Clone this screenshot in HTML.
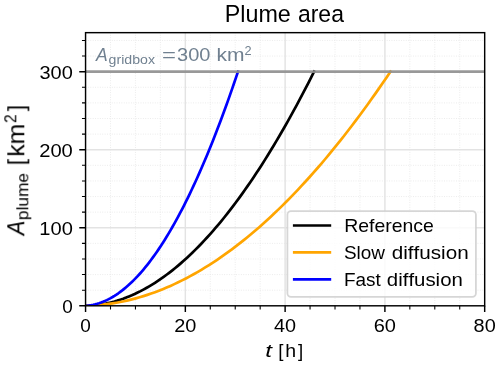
<!DOCTYPE html>
<html><head><meta charset="utf-8"><title>Plume area</title>
<style>html,body{margin:0;padding:0;background:#fff;}body{width:500px;height:365px;overflow:hidden;}svg{display:block;}text{font-family:"Liberation Sans",sans-serif;}</style>
</head><body>
<svg width="500" height="365" viewBox="0 0 500 365">
<rect width="500" height="365" fill="#fff"/>
<path d="M110.5 305.8V32.66M135.45 305.8V32.66M160.39 305.8V32.66M210.28 305.8V32.66M235.23 305.8V32.66M260.18 305.8V32.66M310.06 305.8V32.66M335.01 305.8V32.66M359.95 305.8V32.66M409.84 305.8V32.66M434.79 305.8V32.66M459.74 305.8V32.66M85.56 290.19H484.68M85.56 274.58H484.68M85.56 258.98H484.68M85.56 243.37H484.68M85.56 212.15H484.68M85.56 196.54H484.68M85.56 180.94H484.68M85.56 165.33H484.68M85.56 134.11H484.68M85.56 118.5H484.68M85.56 102.9H484.68M85.56 87.29H484.68M85.56 56.07H484.68M85.56 40.46H484.68" stroke="#e8e8e8" stroke-width="0.9" stroke-dasharray="0.9 1.49" fill="none"/>
<path d="M185.34 305.8V32.66M285.12 305.8V32.66M384.9 305.8V32.66M85.56 227.76H484.68M85.56 149.72H484.68M85.56 71.68H484.68" stroke="#e3e3e3" stroke-width="1.44" fill="none"/>
<defs><clipPath id="ax"><rect x="85.56" y="32.66" width="399.12" height="273.14"/></clipPath></defs>
<g clip-path="url(#ax)">
<polyline points="85.56,305.80 88.45,305.71 91.35,305.54 94.24,305.30 97.13,304.98 100.02,304.58 102.92,304.11 105.81,303.56 108.70,302.94 111.59,302.24 114.49,301.47 117.38,300.62 120.27,299.69 123.16,298.70 126.06,297.62 128.95,296.47 131.84,295.25 134.73,293.95 137.63,292.58 140.52,291.14 143.41,289.61 146.30,288.02 149.20,286.35 152.09,284.61 154.98,282.79 157.87,280.90 160.77,278.93 163.66,276.89 166.55,274.78 169.44,272.60 172.34,270.34 175.23,268.01 178.12,265.60 181.01,263.12 183.91,260.57 186.80,257.94 189.69,255.25 192.58,252.48 195.48,249.63 198.37,246.72 201.26,243.73 204.15,240.67 207.05,237.54 209.94,234.33 212.83,231.06 215.72,227.71 218.62,224.29 221.51,220.79 224.40,217.23 227.29,213.59 230.19,209.88 233.08,206.11 235.97,202.26 238.86,198.33 241.76,194.34 244.65,190.28 247.54,186.14 250.44,181.94 253.33,177.66 256.22,173.31 259.11,168.90 262.01,164.41 264.90,159.85 267.79,155.22 270.68,150.52 273.58,145.75 276.47,140.91 279.36,136.01 282.25,131.03 285.15,125.98 288.04,120.86 290.93,115.67 293.82,110.42 296.72,105.09 299.61,99.69 302.50,94.23 305.39,88.69 308.29,83.09 311.18,77.42 314.07,71.68" fill="none" stroke="#000000" stroke-width="2.7" stroke-linecap="square" stroke-linejoin="round"/>
<polyline points="85.56,305.80 89.42,305.68 93.28,305.48 97.14,305.21 101.00,304.86 104.86,304.44 108.72,303.94 112.57,303.37 116.43,302.73 120.29,302.01 124.15,301.21 128.01,300.34 131.87,299.40 135.73,298.38 139.59,297.29 143.45,296.12 147.31,294.88 151.17,293.57 155.03,292.18 158.89,290.72 162.75,289.19 166.60,287.58 170.46,285.90 174.32,284.14 178.18,282.31 182.04,280.41 185.90,278.44 189.76,276.39 193.62,274.27 197.48,272.08 201.34,269.81 205.20,267.47 209.06,265.06 212.92,262.58 216.78,260.03 220.63,257.40 224.49,254.70 228.35,251.93 232.21,249.08 236.07,246.17 239.93,243.18 243.79,240.12 247.65,236.99 251.51,233.79 255.37,230.52 259.23,227.17 263.09,223.76 266.95,220.27 270.81,216.71 274.66,213.08 278.52,209.39 282.38,205.61 286.24,201.77 290.10,197.86 293.96,193.88 297.82,189.83 301.68,185.70 305.54,181.51 309.40,177.25 313.26,172.92 317.12,168.51 320.98,164.04 324.84,159.50 328.69,154.88 332.55,150.20 336.41,145.45 340.27,140.63 344.13,135.74 347.99,130.78 351.85,125.75 355.71,120.65 359.57,115.49 363.43,110.25 367.29,104.95 371.15,99.57 375.01,94.13 378.86,88.62 382.72,83.04 386.58,77.40 390.44,71.68" fill="none" stroke="#ffa500" stroke-width="2.7" stroke-linecap="square" stroke-linejoin="round"/>
<polyline points="85.56,305.80 87.49,305.65 89.42,305.42 91.35,305.13 93.28,304.75 95.21,304.31 97.14,303.79 99.07,303.20 101.00,302.54 102.93,301.80 104.86,300.99 106.78,300.10 108.71,299.15 110.64,298.12 112.57,297.02 114.50,295.84 116.43,294.60 118.36,293.28 120.29,291.88 122.22,290.42 124.15,288.88 126.08,287.27 128.01,285.59 129.94,283.83 131.87,282.01 133.80,280.11 135.73,278.14 137.66,276.09 139.59,273.98 141.52,271.79 143.45,269.53 145.38,267.20 147.31,264.79 149.23,262.32 151.16,259.77 153.09,257.15 155.02,254.46 156.95,251.70 158.88,248.87 160.81,245.96 162.74,242.98 164.67,239.93 166.60,236.82 168.53,233.62 170.46,230.36 172.39,227.03 174.32,223.62 176.25,220.15 178.18,216.60 180.11,212.98 182.04,209.29 183.97,205.53 185.90,201.70 187.83,197.80 189.76,193.83 191.68,189.79 193.61,185.67 195.54,181.49 197.47,177.23 199.40,172.91 201.33,168.51 203.26,164.05 205.19,159.51 207.12,154.90 209.05,150.23 210.98,145.48 212.91,140.66 214.84,135.77 216.77,130.81 218.70,125.79 220.63,120.69 222.56,115.52 224.49,110.28 226.42,104.98 228.35,99.60 230.28,94.15 232.21,88.63 234.13,83.05 236.06,77.39 237.99,71.67" fill="none" stroke="#0000ff" stroke-width="2.7" stroke-linecap="square" stroke-linejoin="round"/>
<path d="M85.56 71.68H484.68" stroke="#8f8f8f" stroke-opacity="0.9" stroke-width="2.7"/>
</g>
<path d="M85.56 305.8v6.3M185.34 305.8v6.3M285.12 305.8v6.3M384.9 305.8v6.3M484.68 305.8v6.3M85.56 305.8h-6.3M85.56 227.76h-6.3M85.56 149.72h-6.3M85.56 71.68h-6.3" stroke="#000" stroke-width="1.44" fill="none"/>
<path d="M110.5 305.8v3.6M135.45 305.8v3.6M160.39 305.8v3.6M210.28 305.8v3.6M235.23 305.8v3.6M260.18 305.8v3.6M310.06 305.8v3.6M335.01 305.8v3.6M359.95 305.8v3.6M409.84 305.8v3.6M434.79 305.8v3.6M459.74 305.8v3.6M85.56 290.19h-3.6M85.56 274.58h-3.6M85.56 258.98h-3.6M85.56 243.37h-3.6M85.56 212.15h-3.6M85.56 196.54h-3.6M85.56 180.94h-3.6M85.56 165.33h-3.6M85.56 134.11h-3.6M85.56 118.5h-3.6M85.56 102.9h-3.6M85.56 87.29h-3.6M85.56 56.07h-3.6M85.56 40.46h-3.6" stroke="#000" stroke-width="1.08" fill="none"/>
<rect x="85.56" y="32.66" width="399.12" height="273.14" fill="none" stroke="#000" stroke-width="1.44" stroke-linejoin="miter"/>
<g font-family="Liberation Sans, sans-serif" style="font-kerning:none;will-change:transform"><text x="224.69" y="22" font-size="23.11" textLength="66.09" lengthAdjust="spacingAndGlyphs" fill="#000">Plume</text><text x="297.99" y="22" font-size="23.11" textLength="45.91" lengthAdjust="spacingAndGlyphs" fill="#000">area</text><text x="62.24" y="312.85" font-size="19.26" textLength="10.55" lengthAdjust="spacingAndGlyphs" fill="#000">0</text><text x="39.34" y="234.81" font-size="19.26" textLength="33.5" lengthAdjust="spacingAndGlyphs" fill="#000">100</text><text x="39.19" y="156.77" font-size="19.26" textLength="33.64" lengthAdjust="spacingAndGlyphs" fill="#000">200</text><text x="39.5" y="78.73" font-size="19.26" textLength="33.33" lengthAdjust="spacingAndGlyphs" fill="#000">300</text><text x="80.28" y="332.45" font-size="19.26" textLength="10.55" lengthAdjust="spacingAndGlyphs" fill="#000">0</text><text x="174.2" y="332.45" font-size="19.26" textLength="22.17" lengthAdjust="spacingAndGlyphs" fill="#000">20</text><text x="274.09" y="332.45" font-size="19.26" textLength="22.06" lengthAdjust="spacingAndGlyphs" fill="#000">40</text><text x="373.69" y="332.45" font-size="19.26" textLength="22.25" lengthAdjust="spacingAndGlyphs" fill="#000">60</text><text x="473.58" y="332.45" font-size="19.26" textLength="22.13" lengthAdjust="spacingAndGlyphs" fill="#000">80</text><text x="265.25" y="356.9" font-size="19.26" font-style="italic" textLength="6.72" lengthAdjust="spacingAndGlyphs" fill="#000">t</text><text x="278.19" y="356.9" font-size="19.26" textLength="5.21" lengthAdjust="spacingAndGlyphs" fill="#000">[</text><text x="285.28" y="356.9" font-size="19.26" textLength="10.87" lengthAdjust="spacingAndGlyphs" fill="#000">h</text><text x="298.01" y="356.9" font-size="19.26" textLength="5.21" lengthAdjust="spacingAndGlyphs" fill="#000">]</text><text x="96.06" y="61.45" font-size="19.26" font-style="italic" textLength="11.68" lengthAdjust="spacingAndGlyphs" fill="#708090">A</text><text x="108.61" y="64.1" font-size="13.48" textLength="46.35" lengthAdjust="spacingAndGlyphs" fill="#708090">gridbox</text><text x="162.03" y="61.45" font-size="19.26" textLength="13.94" lengthAdjust="spacingAndGlyphs" fill="#708090">=</text><text x="177.04" y="61.45" font-size="19.26" textLength="33.34" lengthAdjust="spacingAndGlyphs" fill="#708090">300</text><text x="216.58" y="61.45" font-size="19.26" textLength="28" lengthAdjust="spacingAndGlyphs" fill="#708090">km</text><text x="244.56" y="54.5" font-size="13.48" textLength="7.08" lengthAdjust="spacingAndGlyphs" fill="#708090">2</text></g>
<g transform="translate(24.3 235.2) rotate(-90)" font-family="Liberation Sans, sans-serif" style="font-kerning:none;will-change:transform"><text x="-0.07" y="0" font-size="23.11" font-style="italic" textLength="14.53" lengthAdjust="spacingAndGlyphs" fill="#000">A</text><text x="15.05" y="3.61" font-size="16.18" textLength="47.12" lengthAdjust="spacingAndGlyphs" fill="#000">plume</text><text x="69.99" y="0" font-size="23.11" textLength="6.25" lengthAdjust="spacingAndGlyphs" fill="#000">[</text><text x="78.46" y="0" font-size="23.11" textLength="33.08" lengthAdjust="spacingAndGlyphs" fill="#000">km</text><text x="112.3" y="-8.42" font-size="16.18" textLength="8.54" lengthAdjust="spacingAndGlyphs" fill="#000">2</text><text x="124.12" y="0" font-size="23.11" textLength="6.25" lengthAdjust="spacingAndGlyphs" fill="#000">]</text></g>
<rect x="287.4" y="211.1" width="188.5" height="85.8" rx="3.6" fill="#fff" fill-opacity="0.8" stroke="#ccc" stroke-opacity="0.8" stroke-width="1.8"/><path d="M294.25 225.5H329.85" stroke="#000" stroke-width="2.7" stroke-linecap="square"/><path d="M294.25 252.4H329.85" stroke="#ffa500" stroke-width="2.7" stroke-linecap="square"/><path d="M294.25 279.3H329.85" stroke="#0000ff" stroke-width="2.7" stroke-linecap="square"/><g font-family="Liberation Sans, sans-serif" style="font-kerning:none;will-change:transform"><text x="344.25" y="231.9" font-size="19.26" textLength="89.62" lengthAdjust="spacingAndGlyphs" fill="#000">Reference</text><text x="343.99" y="258.8" font-size="19.26" textLength="41.06" lengthAdjust="spacingAndGlyphs" fill="#000">Slow</text><text x="391.7" y="258.8" font-size="19.26" textLength="77.04" lengthAdjust="spacingAndGlyphs" fill="#000">diffusion</text><text x="343.95" y="285.7" font-size="19.26" textLength="36.84" lengthAdjust="spacingAndGlyphs" fill="#000">Fast</text><text x="386.85" y="285.7" font-size="19.26" textLength="75.98" lengthAdjust="spacingAndGlyphs" fill="#000">diffusion</text></g>
</svg>
</body></html>
